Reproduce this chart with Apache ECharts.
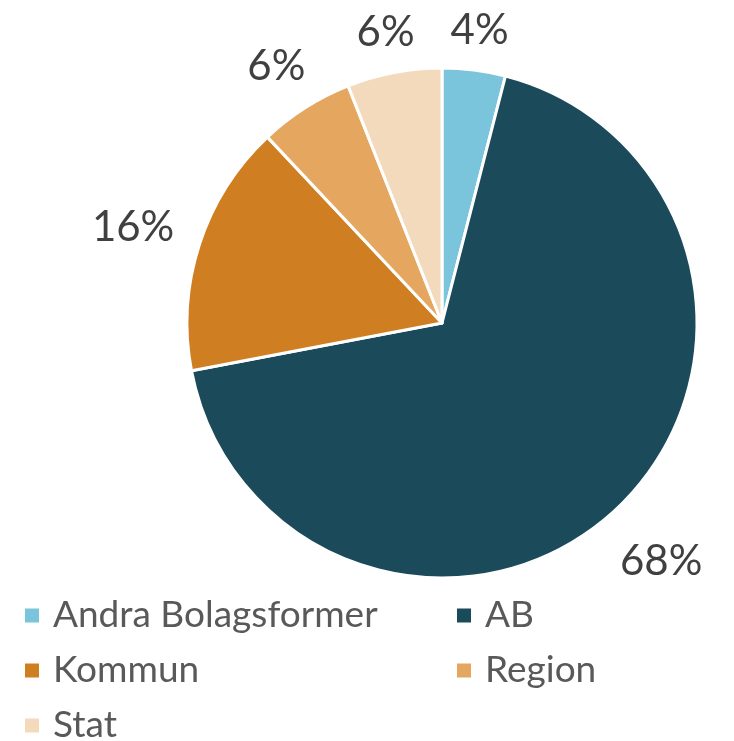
<!DOCTYPE html>
<html>
<head>
<meta charset="utf-8">
<script src="https://cdn.jsdelivr.net/npm/echarts@6/dist/echarts.min.js"></script>
<style>
  html, body { margin: 0; padding: 0; background: #fff; }
  #pieChart { width: 734px; height: 741px; }
</style>
</head>
<body>
<div id="pieChart"></div>
<script>
// bolagsformer, andel i procent
const categories = ['Andra Bolagsformer', 'AB', 'Kommun', 'Region', 'Stat'];
const shares = [4, 68, 16, 6, 6];
const colors = ['#7BC5DC', '#1B4A5A', '#CF7F22', '#E5A75F', '#F3DABD'];

// legend columns
const legendLeft = ['Andra Bolagsformer', 'Kommun', 'Stat'];
const legendRight = ['AB', 'Region'];

const CX = 442, CY = 323, R = 255;
const total = shares.reduce((a, b) => a + b, 0);

const pieChart = echarts.init(document.getElementById('pieChart'));

// mittvinkel per tårtbit (medurs från toppen)
function midAngle(i) {
    let before = 0;
    for (let k = 0; k < i; k++) before += shares[k];
    return (before + shares[i] / 2) / total * Math.PI * 2;
}

const legendBase = {
    orient: 'vertical',
    top: 597,
    height: 160,
    padding: 0,
    itemWidth: 16,
    itemHeight: 16,
    itemGap: 18,
    icon: 'rect',
    textStyle: {
        fontFamily: 'Lato',
        fontSize: 37,
        lineHeight: 36,
        color: '#595959',
        padding: [0, 0, 0, 8]
    }
};

const option = {
    color: colors,
    animation: false,
    legend: [
        Object.assign({}, legendBase, { left: 23, data: legendLeft }),
        Object.assign({}, legendBase, { left: 455, data: legendRight })
    ],
    series: [{
        type: 'pie',
        center: [CX, CY],
        radius: R,
        startAngle: 90,
        clockwise: true,
        itemStyle: {
            borderColor: '#fff',
            borderWidth: 3
        },
        label: {
            show: true,
            position: 'outside',
            overflow: 'none',
            fontFamily: 'Lato',
            fontSize: 42,
            color: '#404040',
            formatter: p => Math.round(p.percent) + '%'
        },
        labelLine: { show: false },
        // etiketter radiellt utanför kanten
        labelLayout: function (params) {
            const a = midAngle(params.dataIndex);
            const ux = Math.sin(a), uy = -Math.cos(a);
            const w = params.labelRect.width;
            const d = R + 26 + Math.abs(ux) * w / 2 + Math.abs(uy) * 15;
            return {
                x: CX + ux * d,
                y: CY + uy * d + 5,
                align: 'center',
                verticalAlign: 'middle'
            };
        },
        data: categories.map((name, i) => ({ name: name, value: shares[i] }))
    }]
};

pieChart.setOption(option);
</script>
</body>
</html>
